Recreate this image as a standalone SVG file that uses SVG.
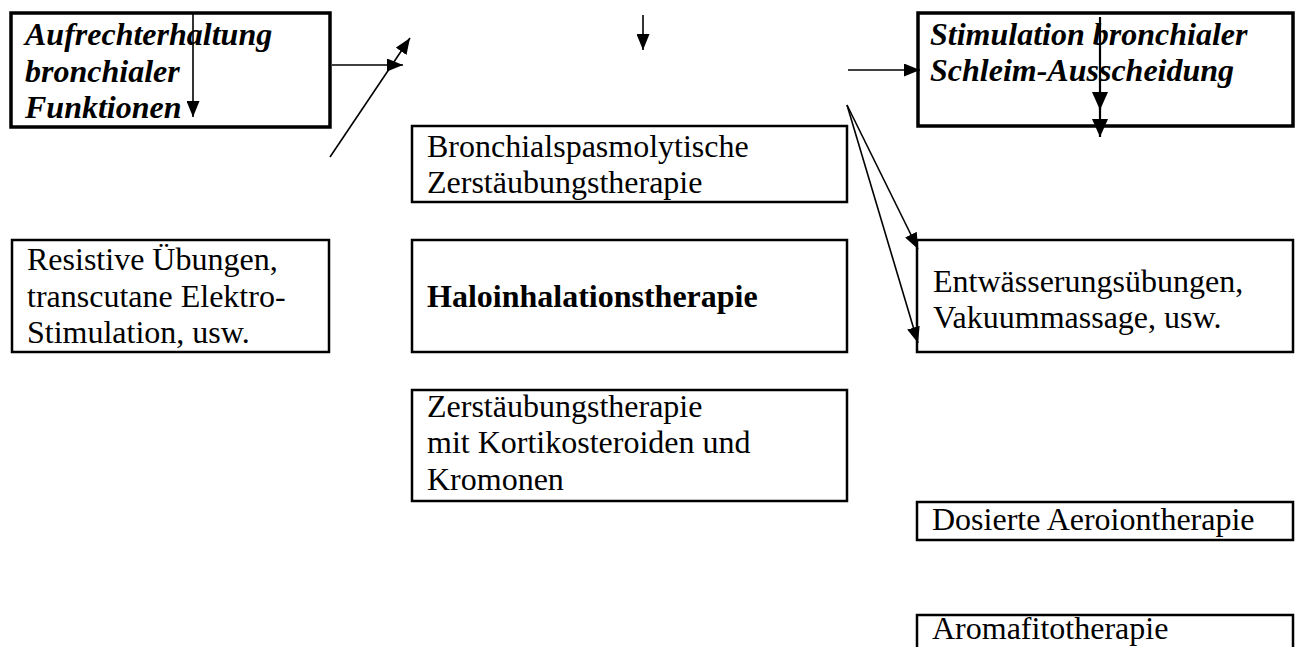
<svg xmlns="http://www.w3.org/2000/svg" width="1295" height="647" viewBox="0 0 1295 647">
<style>
  .t { font-family: "Liberation Serif", "Times New Roman", serif; font-size: 32px; fill: #000; }
  .bi { font-weight: bold; font-style: italic; }
  .b { font-weight: bold; }
  .thick { fill: #fff; stroke: #000; stroke-width: 3.5; }
  .thin { fill: #fff; stroke: #000; stroke-width: 2.5; }
  .c { fill: none; stroke: #000; stroke-width: 1.6; }
  .cb { fill: none; stroke: #000; stroke-width: 2.2; }
</style>
<defs>
  <marker id="ah" markerUnits="userSpaceOnUse" markerWidth="16" markerHeight="13" refX="16" refY="6.5" orient="auto">
    <path d="M0,0 L16,6.5 L0,13 z" fill="#000"/>
  </marker>
  <marker id="ahb" markerUnits="userSpaceOnUse" markerWidth="18" markerHeight="16" refX="18" refY="8" orient="auto">
    <path d="M0,0 L18,8 L0,16 z" fill="#000"/>
  </marker>
</defs>

<g id="n-aufrecht">
  <rect class="thick" x="11" y="13" width="319" height="114"/>
  <text class="t bi" x="25" y="45">Aufrechterhaltung</text>
  <text class="t bi" x="25" y="82">bronchialer</text>
  <text class="t bi" x="25" y="118">Funktionen</text>
</g>

<g id="n-stimulation">
  <rect class="thick" x="918" y="13" width="375" height="113"/>
  <text class="t bi" x="930" y="45">Stimulation bronchialer</text>
  <text class="t bi" x="930" y="81">Schleim-Ausscheidung</text>
</g>

<g id="n-bronchial">
  <rect class="thin" x="412" y="126" width="435" height="76"/>
  <text class="t" x="427" y="157">Bronchialspasmolytische</text>
  <text class="t" x="427" y="193">Zerstäubungstherapie</text>
</g>

<g id="n-resistive">
  <rect class="thin" x="12" y="240" width="317" height="112"/>
  <text class="t" x="27" y="270">Resistive Übungen,</text>
  <text class="t" x="27" y="307">transcutane Elektro-</text>
  <text class="t" x="27" y="343">Stimulation, usw.</text>
</g>

<g id="n-halo">
  <rect class="thin" x="412" y="240" width="435" height="112"/>
  <text class="t b" x="427" y="307">Haloinhalationstherapie</text>
</g>

<g id="n-entwaesserung">
  <rect class="thin" x="917" y="240" width="376" height="112"/>
  <text class="t" x="933" y="292">Entwässerungsübungen,</text>
  <text class="t" x="933" y="328">Vakuummassage, usw.</text>
</g>

<g id="n-zerstaeubung">
  <rect class="thin" x="412" y="390" width="435" height="111"/>
  <text class="t" x="427" y="417">Zerstäubungstherapie</text>
  <text class="t" x="427" y="453">mit Kortikosteroiden und</text>
  <text class="t" x="427" y="490">Kromonen</text>
</g>

<g id="n-dosierte">
  <rect class="thin" x="917" y="502" width="376" height="38"/>
  <text class="t" x="932" y="530">Dosierte Aeroiontherapie</text>
</g>

<g id="n-aroma">
  <rect class="thin" x="917" y="615" width="376" height="50"/>
  <text class="t" x="932" y="639">Aromafitotherapie</text>
</g>

<g id="connectors">
  <line class="c" x1="193" y1="14" x2="193" y2="117" marker-end="url(#ah)"/>
  <line class="c" x1="332" y1="65" x2="403" y2="65" marker-end="url(#ah)"/>
  <line class="c" x1="330" y1="157" x2="410" y2="38" marker-end="url(#ah)"/>
  <line class="c" x1="643" y1="15" x2="643" y2="50" marker-end="url(#ah)"/>
  <line class="c" x1="848" y1="70" x2="920" y2="70" marker-end="url(#ah)"/>
  <line class="cb" x1="1100" y1="17" x2="1100" y2="110" marker-end="url(#ahb)"/>
  <line class="cb" x1="1100" y1="100" x2="1100" y2="137" marker-end="url(#ahb)"/>
  <line class="c" x1="847" y1="105" x2="918" y2="249" marker-end="url(#ah)"/>
  <line class="c" x1="847" y1="105" x2="918" y2="343" marker-end="url(#ah)"/>
</g>
</svg>
